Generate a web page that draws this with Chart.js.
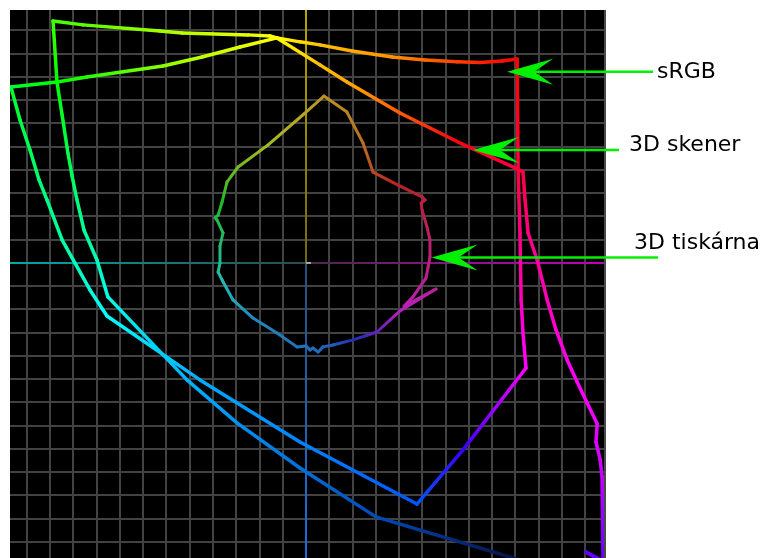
<!DOCTYPE html>
<html>
<head>
<meta charset="utf-8">
<script src="https://cdn.jsdelivr.net/npm/chart.js@4"></script>
<style>
    html, body { margin: 0; padding: 0; background: #fff; }
</style>
</head>
<body>
<canvas id="gamut" width="766" height="558"></canvas>
<script>
// a*, b* values (one grid cell = 10)
const srgbA = [-126.9,-107.1,-94.2,-78.7,-61.5,-44.7,-28.4,-12.5,-2.6,6.0,19.8,37.0,51.2,64.9,74.8,84.3,90.8,91.2,92.0,92.5,93.3,94.6,67.5,47.7,-2.6,-45.6,-85.6,-92.9,-99.4,-104.9,-111.4,-114.8,-118.7,-123.0,-126.9]
const srgbB = [75.7,77.8,80.0,82.2,84.7,88.6,92.9,96.8,95.1,93.8,91.2,88.6,87.3,86.5,86.2,86.9,87.7,40.0,12.9,-15.9,-30.1,-45.2,-80.4,-103.7,-77.0,-50.3,-22.8,-11.6,0.0,9.9,27.1,35.7,48.6,61.5,75.7]

const scannerA = [-108.8,-95.9,-62.8,-53.3,-24.9,-15.5,-12.5,6.0,17.6,40.4,65.4,89.9,93.3,94.2,95.5,99.4,103.7,107.5,112.3,116.6,120.9,125.2,124.7,126.5,127.3,127.7,120.4,128.2,109.2,30.1,-2.6,-29.7,-51.2,-85.2,-89.9,-95.5,-98.5,-100.6,-102.4,-104.9,-107.1,-108.8]
const scannerB = [104.1,102.4,99.8,98.9,98.1,97.6,96.8,85.2,77.8,64.5,52.0,40.9,39.1,27.1,12.9,1.3,-15.9,-28.8,-41.7,-51.2,-60.2,-69.2,-77.0,-84.7,-92.0,-128.2,-124.3,-129.0,-132.9,-109.2,-88.2,-68.8,-50.3,-14.6,1.3,14.2,27.1,37.4,47.3,63.7,77.8,104.1]

const printerA = [7.7,17.6,24.5,28.8,39.6,49.9,51.2,49.5,49.9,52.0,53.3,53.3,52.5,51.6,46.0,42.2,55.9,40.4,30.5,20.2,11.6,7.3,5.2,3.0,1.7,0,-3.9,-12.5,-22.8,-31.4,-36.1,-37.8,-37.0,-37.0,-35.7,-38.3,-39.1,-37.8,-36.1,-34.0,-29.2,-16.3,-0.4,7.7]
const printerB = [71.8,64.9,51.6,39.1,33.5,28.4,27.1,25.8,22.8,15.5,9.9,2.6,-1.7,-6.5,-14.6,-18.5,-11.2,-20.6,-29.7,-33.1,-35.3,-36.1,-38.3,-36.6,-37.4,-35.7,-36.1,-30.1,-23.7,-15.9,-7.3,-3.9,0,7.3,12.9,18.5,19.4,20.6,26.2,34.8,41.3,50.8,64.5,71.8]

// callouts: label, arrow tip (a*, b*), end of the arrow shaft (a*)
const calloutText = ['sRGB', '3D skener', '3D tiskárna']
const calloutTipA = [86.5, 71.8, 54.0]
const calloutTipB = [82.2, 48.6, 2.4]
const calloutTailA = [149.2, 134.6, 151.4]

// where each label sits on the page
const labelPos = [[657, 78], [629, 151], [634, 249]]

// angle in the a*b* plane -> hue used for the line colour
const HUE_STOPS = [[44,0],[53,15],[67,34],[86,45],[97,60],[117,75],[134,100],[149,130],[166,150],[195,180],[228,200],[274,210],[295,220],[313,260],[326,290],[335,300],[350,315],[368,330],[384,345],[404,360]]

function hueAt(a, b) {
    var t = Math.atan2(b, a) * 180 / Math.PI;
    while (t < 44) t += 360;
    while (t >= 404) t -= 360;
    for (let i = 1; i < HUE_STOPS.length; i++) {
        var s0 = HUE_STOPS[i - 1], s1 = HUE_STOPS[i];
        if (t <= s1[0]) return s0[1] + (s1[1] - s0[1]) * (t - s0[0]) / (s1[0] - s0[0]);
    }
    return 0;
}

function interp(stops, v) {
    if (v <= stops[0][0]) return stops[0][1];
    for (let i = 1; i < stops.length; i++) {
        if (v <= stops[i][0]) {
            var s0 = stops[i - 1], s1 = stops[i];
            return s0[1] + (s1[1] - s0[1]) * (v - s0[0]) / (s1[0] - s0[0]);
        }
    }
    return stops[stops.length - 1][1];
}

// scanner outline gets darker where it runs off the bottom
const DARK_STOPS = [[-135, 5], [-110, 36], [-90, 42], [-60, 50]]

function colorAt(a, b, style) {
    var h = hueAt(a, b);
    if (style == 'muted') return `hsl(${h}, 70%, 43%)`;
    var l = 50;
    if (style == 'scanner' && a < 115) l = interp(DARK_STOPS, b);
    return `hsl(${h}, 100%, ${l}%)`;
}

function segColor(style) {
    return function(ctx) {
        var chart = ctx.chart;
        var d = chart.data.datasets[ctx.datasetIndex].data;
        var q0 = d[ctx.p0DataIndex], q1 = d[ctx.p1DataIndex];
        var g = chart.ctx.createLinearGradient(ctx.p0.x, ctx.p0.y, ctx.p1.x, ctx.p1.y);
        g.addColorStop(0, colorAt(q0.x, q0.y, style));
        g.addColorStop(1, colorAt(q1.x, q1.y, style));
        return g;
    }
}

function toPoints(xs, ys) {
    return xs.map((x, i) => ({x: x, y: ys[i]}));
}

function outline(label, xs, ys, style, width) {
    return {
        label: label,
        data: toPoints(xs, ys),
        borderColor: '#fff',
        borderWidth: width,
        borderCapStyle: 'round',
        borderJoinStyle: 'round',
        pointRadius: 0,
        tension: 0,
        fill: false,
        segment: { borderColor: segColor(style) }
    }
}

// black plot area + colored a*/b* axes + frame + callouts
const gamutDeco = {
    id: 'gamutDeco',
    beforeDraw(chart) {
        var c = chart.ctx, ca = chart.chartArea;
        c.save();
        c.fillStyle = '#fff';
        c.fillRect(0, 0, chart.width, chart.height);
        c.fillStyle = '#000';
        c.fillRect(ca.left, ca.top, ca.right - ca.left, ca.bottom - ca.top);
        c.restore();
    },
    beforeDatasetsDraw(chart) {
        var c = chart.ctx, ca = chart.chartArea;
        var x0 = chart.scales.x.getPixelForValue(0);
        var y0 = chart.scales.y.getPixelForValue(0);
        function axisLine(xa, ya, xb, yb, colA, colB) {
            var g = c.createLinearGradient(xa, ya, xb, yb);
            g.addColorStop(0, colA);
            g.addColorStop(1, colB);
            c.strokeStyle = g;
            c.beginPath();
            c.moveTo(xa, ya);
            c.lineTo(xb, yb);
            c.stroke();
        }
        c.save();
        c.lineWidth = 2;
        axisLine(ca.left, y0, x0, y0, '#00a8aa', '#2c4c4c');
        axisLine(x0, y0, ca.right, y0, '#4a2a4a', '#c000c0');
        axisLine(x0, ca.top, x0, y0, '#b8a400', '#6e6a10');
        axisLine(x0, y0, x0, ca.bottom, '#28507a', '#1a6ee0');
        c.strokeStyle = '#aaaaaa';
        c.beginPath();
        c.moveTo(x0, y0);
        c.lineTo(x0 + 5, y0);
        c.stroke();
        c.restore();
    },
    afterDraw(chart) {
        var c = chart.ctx, ca = chart.chartArea;
        var xs = chart.scales.x, ys = chart.scales.y;
        c.save();
        // right frame
        c.strokeStyle = '#4a4a4a';
        c.lineWidth = 2;
        c.beginPath();
        c.moveTo(ca.right - 1, ca.top);
        c.lineTo(ca.right - 1, ca.bottom);
        c.stroke();

        c.fillStyle = '#00f000';
        c.strokeStyle = '#00f000';
        for (let i = 0; i < calloutText.length; i++) {
            var tx = xs.getPixelForValue(calloutTipA[i]);
            var ty = ys.getPixelForValue(calloutTipB[i]);
            var ex = xs.getPixelForValue(calloutTailA[i]);
            c.lineWidth = 2.5;
            c.beginPath();
            c.moveTo(tx + 20, ty);
            c.lineTo(ex, ty);
            c.stroke();
            c.beginPath();
            c.moveTo(tx, ty);
            c.lineTo(tx + 46, ty - 13);
            c.lineTo(tx + 27, ty);
            c.lineTo(tx + 46, ty + 13);
            c.closePath();
            c.fill();
        }
        c.fillStyle = '#000';
        c.font = '22px "DejaVu Sans"';
        c.textBaseline = 'alphabetic';
        for (let i = 0; i < calloutText.length; i++) {
            c.fillText(calloutText[i], labelPos[i][0], labelPos[i][1]);
        }
        c.restore();
    }
}

const gridOpts = { color: '#424242', lineWidth: 2, drawTicks: false }

new Chart(document.getElementById('gamut'), {
    type: 'line',
    data: {
        datasets: [
            outline('sRGB', srgbA, srgbB, 'bright', 3.5),
            outline('3D skener', scannerA, scannerB, 'scanner', 3.5),
            outline('3D tiskárna', printerA, printerB, 'muted', 3)
        ]
    },
    options: {
        responsive: false,
        animation: false,
        layout: { padding: { left: 10, top: 10, right: 160, bottom: 0 } },
        plugins: {
            legend: { display: false },
            tooltip: { enabled: false }
        },
        scales: {
            x: {
                type: 'linear',
                min: -127.3,
                max: 129,
                ticks: { display: false, stepSize: 10, includeBounds: false },
                grid: gridOpts,
                border: { display: false }
            },
            y: {
                type: 'linear',
                min: -126.9,
                max: 108.8,
                ticks: { display: false, stepSize: 10, includeBounds: false },
                grid: gridOpts,
                border: { display: false }
            }
        }
    },
    plugins: [gamutDeco]
});
</script>
</body>
</html>
